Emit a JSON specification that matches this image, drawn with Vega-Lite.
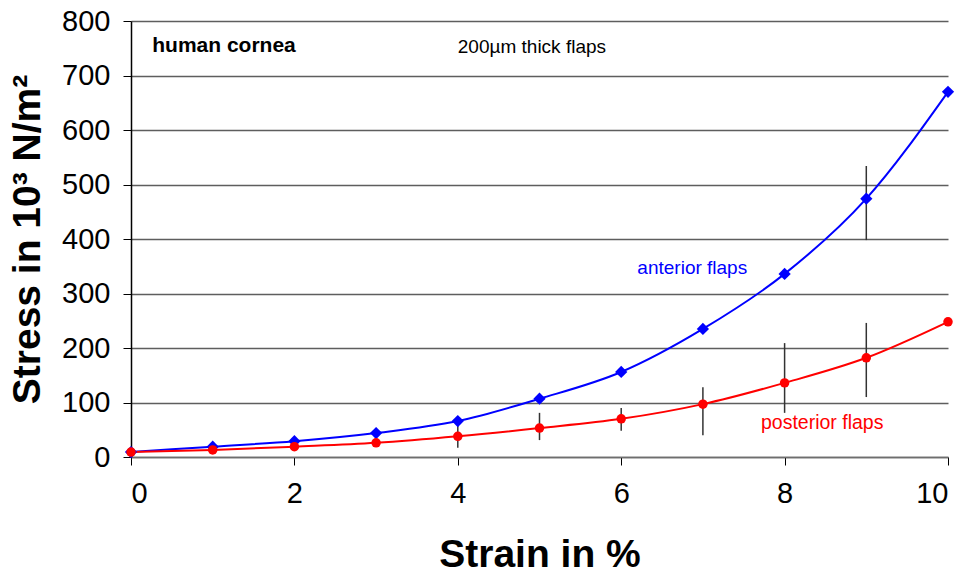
{
  "$schema": "https://vega.github.io/schema/vega-lite/v6.json",
  "width": 817,
  "height": 436,
  "autosize": {"type": "none"},
  "padding": {"left": 131, "top": 21, "right": 20, "bottom": 120},
  "background": "white",
  "config": {
    "view": {"stroke": null},
    "font": "Liberation Sans",
    "axis": {"labelFont": "Liberation Sans", "titleFont": "Liberation Sans", "labelColor": "#000", "titleColor": "#000"}
  },
  "datasets": {
    "series": [
      {"strain": 0, "stress": 9, "group": "anterior"},
      {"strain": 1, "stress": 19, "group": "anterior"},
      {"strain": 2, "stress": 29, "group": "anterior"},
      {"strain": 3, "stress": 44, "group": "anterior"},
      {"strain": 4, "stress": 66, "group": "anterior"},
      {"strain": 5, "stress": 107, "group": "anterior"},
      {"strain": 6, "stress": 156, "group": "anterior"},
      {"strain": 7, "stress": 235, "group": "anterior"},
      {"strain": 8, "stress": 336, "group": "anterior"},
      {"strain": 9, "stress": 474, "group": "anterior"},
      {"strain": 10, "stress": 670, "group": "anterior"},
      {"strain": 0, "stress": 9, "group": "posterior"},
      {"strain": 1, "stress": 13, "group": "posterior"},
      {"strain": 2, "stress": 19, "group": "posterior"},
      {"strain": 3, "stress": 26, "group": "posterior"},
      {"strain": 4, "stress": 38, "group": "posterior"},
      {"strain": 5, "stress": 53, "group": "posterior"},
      {"strain": 6, "stress": 70, "group": "posterior"},
      {"strain": 7, "stress": 97, "group": "posterior"},
      {"strain": 8, "stress": 136, "group": "posterior"},
      {"strain": 9, "stress": 182, "group": "posterior"},
      {"strain": 10, "stress": 248, "group": "posterior"}
    ],
    "errors": [
      {"strain": 4, "low": 17, "high": 58, "group": "posterior"},
      {"strain": 5, "low": 31, "high": 81, "group": "posterior"},
      {"strain": 6, "low": 48, "high": 90, "group": "posterior"},
      {"strain": 7, "low": 40, "high": 128, "group": "posterior"},
      {"strain": 8, "low": 81, "high": 209, "group": "posterior"},
      {"strain": 9, "low": 110, "high": 246, "group": "posterior"},
      {"strain": 9, "low": 398, "high": 534, "group": "anterior"}
    ]
  },
  "layer": [
    {
      "data": {"name": "errors"},
      "mark": {"type": "rule", "color": "#333333", "strokeWidth": 1.5},
      "encoding": {
        "x": {"field": "strain", "type": "quantitative",
          "scale": {"domain": [0, 10], "nice": false},
          "axis": {"values": [0, 2, 4, 6, 8, 10], "format": "d", "grid": false, "title": "Strain in %",
            "labelFontSize": 29, "labelPadding": 14, "tickSize": 8, "tickColor": "#000", "tickWidth": 1,
            "domainColor": "#6e6e6e", "domainWidth": 1.5,
            "titleFontSize": 39, "titleFontWeight": "bold", "titlePadding": 27}},
        "y": {"field": "low", "type": "quantitative",
          "scale": {"domain": [0, 800], "nice": false},
          "axis": {"values": [0, 100, 200, 300, 400, 500, 600, 700, 800], "format": "d", "grid": true,
            "gridColor": "#5e5e5e", "gridWidth": 1.5, "title": "Stress in 10³ N/m²",
            "labelFontSize": 29, "labelPadding": 13, "tickSize": 8, "tickColor": "#000", "tickWidth": 1,
            "domainColor": "#000", "domainWidth": 1.5,
            "titleFontSize": 39, "titleFontWeight": "bold", "titlePadding": 14}},
        "y2": {"field": "high"}
      }
    },
    {
      "data": {"name": "series"},
      "mark": {"type": "line", "interpolate": "monotone", "strokeWidth": 2},
      "encoding": {
        "x": {"field": "strain", "type": "quantitative"},
        "y": {"field": "stress", "type": "quantitative"},
        "color": {"field": "group", "type": "nominal",
          "scale": {"domain": ["anterior", "posterior"], "range": ["#0000ff", "#ff0000"]}, "legend": null}
      }
    },
    {
      "data": {"name": "series"},
      "mark": {"type": "point", "filled": true, "opacity": 1},
      "encoding": {
        "x": {"field": "strain", "type": "quantitative"},
        "y": {"field": "stress", "type": "quantitative"},
        "color": {"field": "group", "type": "nominal",
          "scale": {"domain": ["anterior", "posterior"], "range": ["#0000ff", "#ff0000"]}, "legend": null},
        "shape": {"field": "group", "type": "nominal",
          "scale": {"domain": ["anterior", "posterior"], "range": ["diamond", "circle"]}, "legend": null},
        "size": {"field": "group", "type": "nominal",
          "scale": {"domain": ["anterior", "posterior"], "range": [150, 90]}, "legend": null}
      }
    },
    {
      "data": {"values": [{"strain": 0.26, "stress": 754, "label": "human cornea"}]},
      "mark": {"type": "text", "align": "left", "baseline": "middle", "fontSize": 21, "fontWeight": "bold", "color": "#000"},
      "encoding": {
        "x": {"field": "strain", "type": "quantitative"},
        "y": {"field": "stress", "type": "quantitative"},
        "text": {"field": "label"}
      }
    },
    {
      "data": {"values": [{"strain": 4.0, "stress": 752, "label": "200µm thick flaps"}]},
      "mark": {"type": "text", "align": "left", "baseline": "middle", "fontSize": 19, "color": "#000"},
      "encoding": {
        "x": {"field": "strain", "type": "quantitative"},
        "y": {"field": "stress", "type": "quantitative"},
        "text": {"field": "label"}
      }
    },
    {
      "data": {"values": [{"strain": 6.87, "stress": 347, "label": "anterior flaps"}]},
      "mark": {"type": "text", "align": "center", "baseline": "middle", "fontSize": 19, "color": "#0000ff"},
      "encoding": {
        "x": {"field": "strain", "type": "quantitative"},
        "y": {"field": "stress", "type": "quantitative"},
        "text": {"field": "label"}
      }
    },
    {
      "data": {"values": [{"strain": 8.46, "stress": 62, "label": "posterior flaps"}]},
      "mark": {"type": "text", "align": "center", "baseline": "middle", "fontSize": 19.5, "color": "#ff0000"},
      "encoding": {
        "x": {"field": "strain", "type": "quantitative"},
        "y": {"field": "stress", "type": "quantitative"},
        "text": {"field": "label"}
      }
    }
  ]
}
